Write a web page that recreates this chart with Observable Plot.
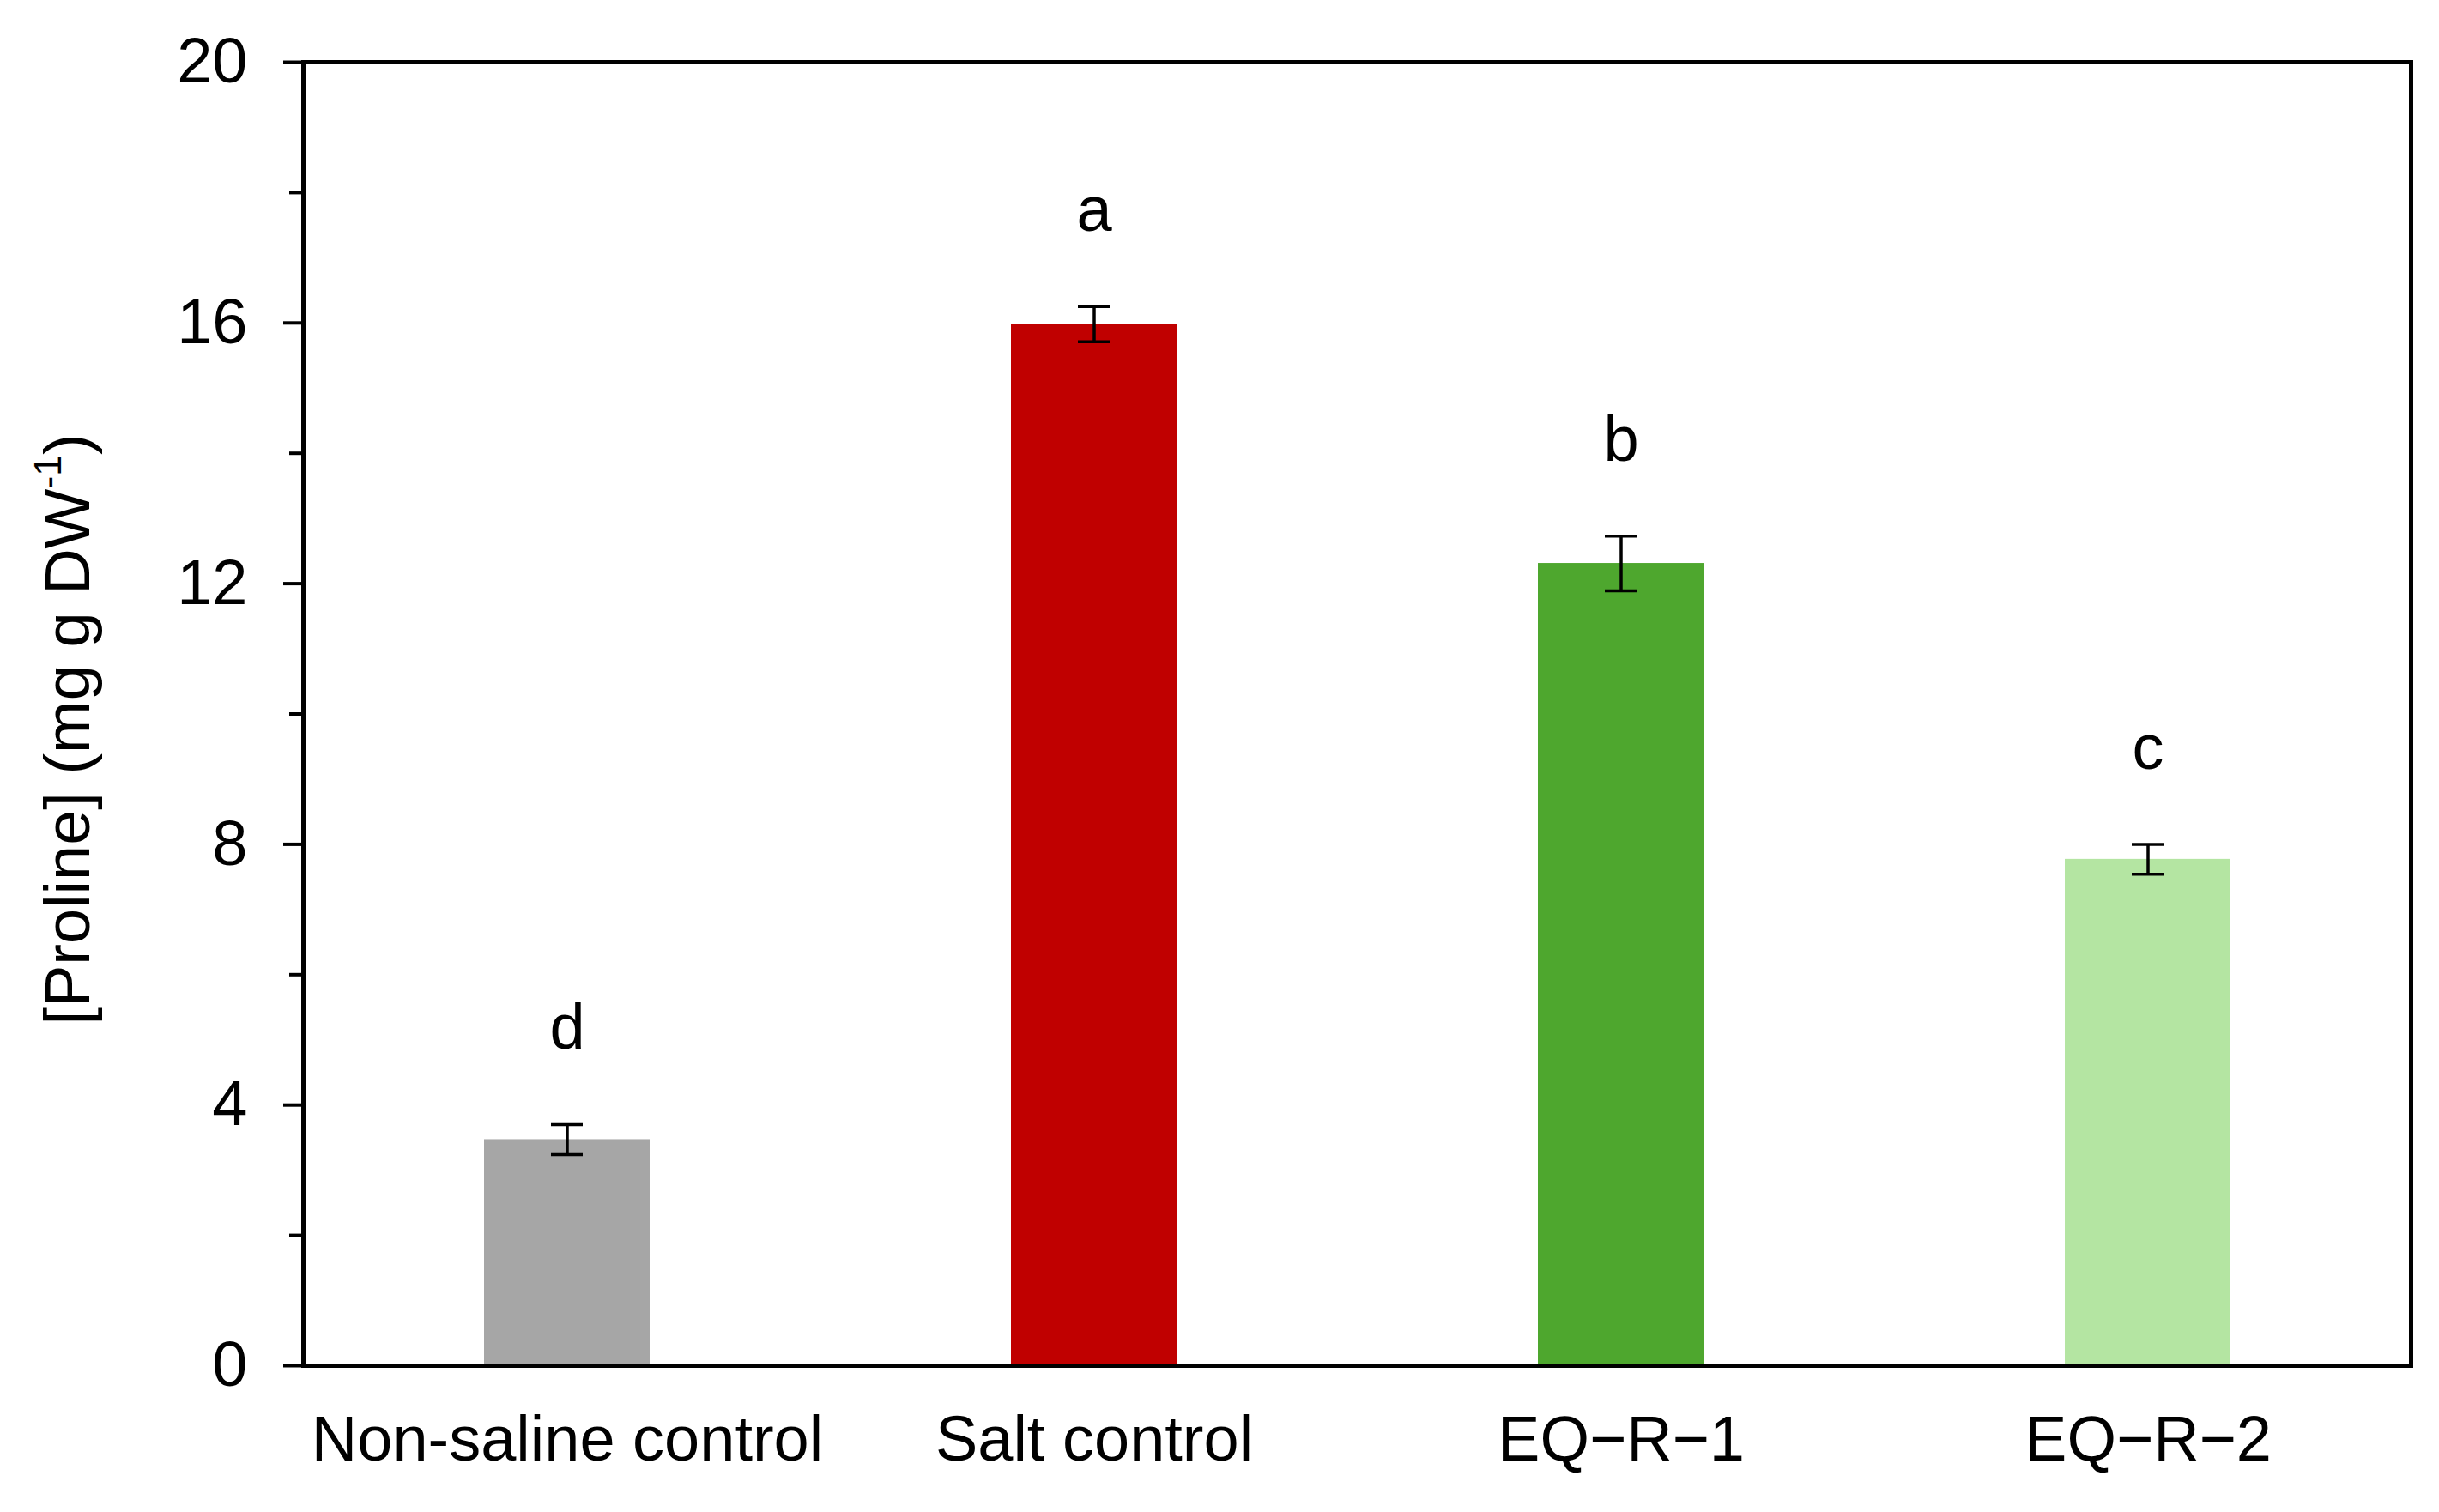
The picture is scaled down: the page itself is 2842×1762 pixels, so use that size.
<!DOCTYPE html>
<html>
<head>
<meta charset="utf-8">
<script src="https://cdn.jsdelivr.net/npm/d3@7"></script>
<script src="https://cdn.jsdelivr.net/npm/@observablehq/plot@0.6"></script>
<style>
  html, body { margin: 0; padding: 0; background: #fff; }
  #chart svg { display: block; }
</style>
</head>
<body>
<div id="chart"></div>
<script>
const categories = ["Non-saline control", "Salt control", "EQ\u2212R\u22121", "EQ\u2212R\u22122"];
const means = [3.47, 15.98, 12.31, 7.77];
const errors = [0.23, 0.27, 0.42, 0.23];
const letters = ["d", "a", "b", "c"];
const colors = ["#a6a6a6", "#c00000", "#4ea72e", "#b4e5a2"];
const majorTicks = [0, 4, 8, 12, 16, 20];
const minorTicks = [2, 6, 10, 14, 18];
const yLabelMain = "[Proline] (mg g DW";
const yLabelSup = "-1";

const data = categories.map((c, i) => ({
  cat: c, mean: means[i], err: errors[i], letter: letters[i],
  lo: means[i] - errors[i], hi: means[i] + errors[i]
}));

const FONT = "'Liberation Sans', Arial, sans-serif";
const FS = 74;

const chart = Plot.plot({
  width: 2842,
  height: 1762,
  marginLeft: 353,
  marginRight: 33,
  marginTop: 72,
  marginBottom: 171,
  style: { fontFamily: FONT, fontSize: FS + "px", color: "#000", background: "#fff" },
  x: { domain: categories, paddingInner: 0.686, paddingOuter: 0.343, label: null },
  y: { domain: [0, 20], label: null },
  color: { domain: categories, range: colors },
  marks: [
    Plot.barY(data, { x: "cat", y: "mean", fill: "cat" }),
    Plot.ruleX(data, { x: "cat", y1: "lo", y2: "hi", stroke: "#000", strokeWidth: 3.5 }),
    Plot.tickY(data, { x: "cat", y: "lo", stroke: "#000", strokeWidth: 3.5, insetLeft: 78, insetRight: 78 }),
    Plot.tickY(data, { x: "cat", y: "hi", stroke: "#000", strokeWidth: 3.5, insetLeft: 78, insetRight: 78 }),
    Plot.text(data, { x: "cat", y: "hi", text: "letter", dy: -88, lineAnchor: "bottom", fontSize: FS, fill: "#000" }),
    Plot.axisY(majorTicks, { tickSize: 23, tickPadding: 42, strokeWidth: 4, fontSize: FS, tickFormat: d => String(d), label: null }),
    Plot.axisY(minorTicks, { tickSize: 16, strokeWidth: 4, tickFormat: () => "", label: null }),
    Plot.axisX({ tickSize: 0, tickPadding: 58, fontSize: FS, label: null }),
    Plot.frame({ stroke: "#000", strokeWidth: 5 })
  ]
});

// y-axis title with superscript
const svg = d3.select(chart);
const t = svg.append("text")
  .attr("transform", "translate(104,850) rotate(-90)")
  .attr("text-anchor", "middle")
  .attr("font-family", FONT)
  .attr("font-size", FS)
  .attr("fill", "#000");
t.append("tspan").text(yLabelMain);
t.append("tspan").attr("font-size", FS * 0.6).attr("dy", "-0.75em").text(yLabelSup);
t.append("tspan").attr("dy", "0.45em").text(")");

document.getElementById("chart").appendChild(chart);
</script>
</body>
</html>
